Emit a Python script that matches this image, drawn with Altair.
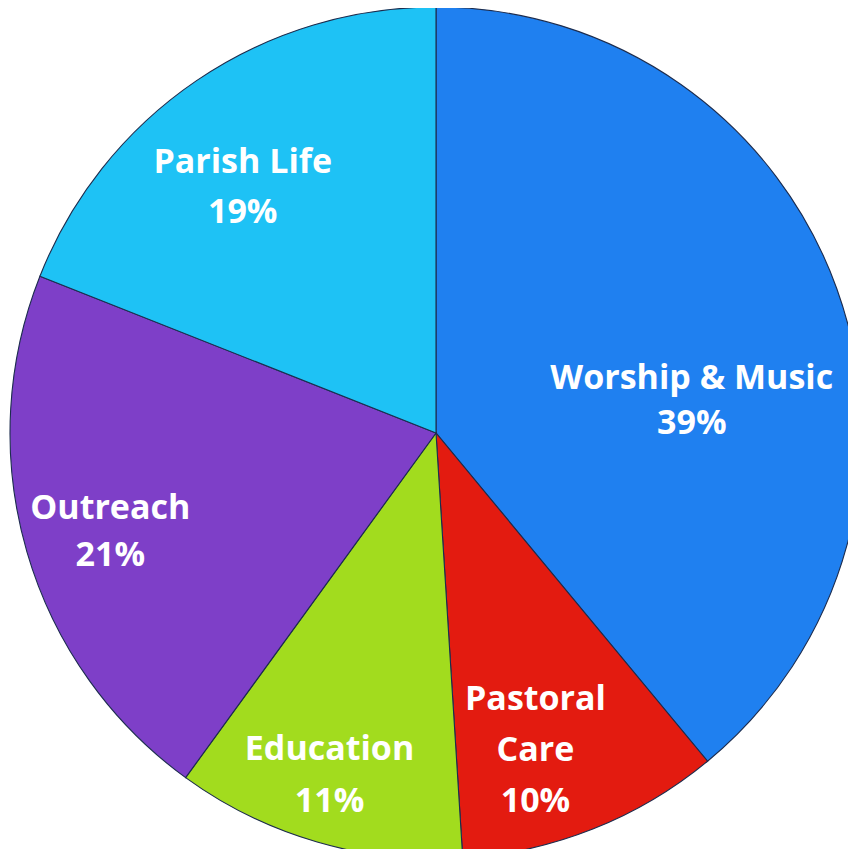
import altair as alt
import pandas as pd

categories = ["Worship & Music", "Pastoral Care", "Education", "Outreach", "Parish Life"]
values = [39, 10, 11, 21, 19]
label_lines = [["Worship & Music", "39%"], ["Pastoral", "Care", "10%"],
               ["Education", "11%"], ["Outreach", "21%"], ["Parish Life", "19%"]]
colors = ["#1F80F0", "#E31B10", "#A2DC1E", "#7E3FC8", "#1EC2F5"]

df = pd.DataFrame({
    "category": categories,
    "value": values,
    "order": list(range(len(categories))),
    "label": label_lines,
})

CX, CY, R = 428, 425, 426

base = alt.Chart(df).encode(
    theta=alt.Theta("value:Q", stack=True),
    order=alt.Order("order:Q"),
    x=alt.value(CX),
    y=alt.value(CY),
)

arcs = base.mark_arc(radius=R, stroke="#1c2c4e", strokeWidth=1.1).encode(
    color=alt.Color("category:N", scale=alt.Scale(domain=categories, range=colors), legend=None)
)

text_style = dict(font="Open Sans", fontWeight="bold", fontSize=34, color="white",
                  align="center", baseline="middle")

# label placement style per slice: (radius, dx, dy, lineHeight)
placement = {
    "Worship & Music": (258, 13, 33, 45),
    "Pastoral Care": (330, -22, -40, 51),
    "Education": (335, -13, -5, 52),
    "Outreach": (335, -4, -17, 47),
    "Parish Life": (335, -5, 7, 50),
}

layers = [arcs]
for cat, (rad, dx, dy, lh) in placement.items():
    layers.append(
        base.transform_calculate(
            t=f"datum.category == '{cat}' ? datum.label : ''"
        ).mark_text(radius=rad, dx=dx, dy=dy, lineHeight=lh, **text_style).encode(text="t:N")
    )

chart = alt.layer(*layers).properties(
    width=840, height=841,
    padding=0,
    autosize=alt.AutoSizeParams(type="none"),
    background="white",
).configure_view(stroke=None)

chart.save("out.html", embed_options={"renderer": "svg", "actions": False})
